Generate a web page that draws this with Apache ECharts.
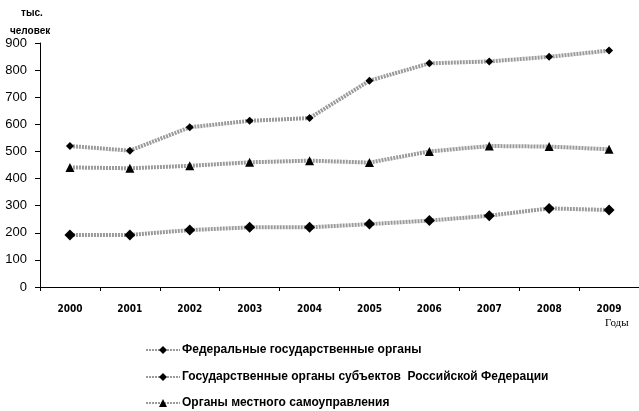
<!DOCTYPE html>
<html><head><meta charset="utf-8">
<script src="https://cdn.jsdelivr.net/npm/echarts@6/dist/echarts.min.js"></script>
<style>html,body{margin:0;padding:0;background:#fff}#c{width:639px;height:411px}</style>
</head><body><div id="c"></div>
<script>
const years = ['2000','2001','2002','2003','2004','2005','2006','2007','2008','2009'];
const federal = [520, 503, 589, 613, 623, 761, 825, 832, 849, 872];
const regional = [192, 192, 210, 220, 220, 232, 245, 263, 290, 284];
const local = [441, 438, 447, 460, 466, 459, 500, 520, 518, 508];
const yTicks = [0, 100, 200, 300, 400, 500, 600, 700, 800, 900];
const names = ['Федеральные государственные органы', 'Государственные органы субъектов  Российской Федерации', 'Органы местного самоуправления'];

const lineStyle = {color: '#9a9a9a', width: 4, type: [2, 1]};
function mk(name, data, symbol, size) {
  return {
    name: name, type: 'line', data: data, symbol: symbol, symbolSize: size,
    itemStyle: {color: '#000'}, lineStyle: lineStyle, animation: false
  };
}
const legendTops = [344, 371, 397];
const chart = echarts.init(document.getElementById('c'));
chart.setOption({
  animation: false,
  textStyle: {fontFamily: 'Liberation Sans, Arial, sans-serif'},
  grid: {left: 40, top: 43, width: 600, height: 244},
  xAxis: {
    type: 'category', data: years, boundaryGap: true,
    axisLine: {lineStyle: {color: '#000', width: 1}},
    axisTick: {show: true, length: 4, lineStyle: {color: '#000'}},
    axisLabel: {color: '#000', fontSize: 10, fontWeight: 'bold', margin: 17,
      fontFamily: 'Liberation Sans Narrow, DejaVu Sans Condensed, sans-serif'}
  },
  yAxis: {
    type: 'value', min: yTicks[0], max: yTicks[yTicks.length - 1], interval: 100,
    splitLine: {show: false},
    axisLine: {show: true, lineStyle: {color: '#000', width: 1}},
    axisTick: {show: true, length: 5, lineStyle: {color: '#000'}},
    axisLabel: {color: '#000', fontSize: 13, margin: 13}
  },
  legend: names.map((n, i) => ({
    orient: 'vertical', left: 145, top: legendTops[i], itemWidth: 34, itemHeight: 10,
    padding: 0, data: [n],
    textStyle: {color: '#000', fontSize: 12, fontWeight: 'bold', padding: [0, 0, 0, -3]}
  })),
  graphic: [
    {type: 'text', left: 21, top: 8, style: {text: 'тыс.', fontSize: 10, fontWeight: 'bold', fill: '#000', fontFamily: 'Liberation Sans, sans-serif'}},
    {type: 'text', left: 10, top: 26, style: {text: 'человек', fontSize: 10, fontWeight: 'bold', fill: '#000', fontFamily: 'Liberation Sans, sans-serif'}},
    {type: 'text', left: 605, top: 318, style: {text: 'Годы', fontSize: 11, fill: '#000', fontFamily: 'Liberation Serif, serif'}}
  ],
  series: [
    mk(names[0], federal, 'diamond', 8),
    mk(names[1], regional, 'diamond', 11),
    mk(names[2], local, 'triangle', 9)
  ]
});
</script></body></html>
